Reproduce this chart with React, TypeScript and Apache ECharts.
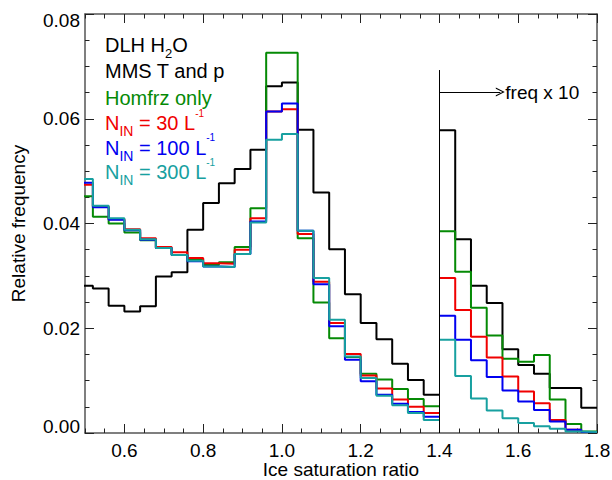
import React, { useEffect, useRef } from "react";
import * as echarts from "echarts";

const FONT = "'Liberation Sans', Arial, Helvetica, sans-serif";

// Bin edges (width 0.04): left panel 0.48..1.40, right panel (freq x 10) 1.40..1.80
const BIN_WIDTH = 0.04;
const leftEdges = Array.from({ length: 24 }, (_, i) => +(0.48 + BIN_WIDTH * i).toFixed(2));
const rightEdges = Array.from({ length: 11 }, (_, i) => +(1.4 + BIN_WIDTH * i).toFixed(2));

// Relative frequency, left panel
const blackLeft = [0.0281, 0.0276, 0.0243, 0.0232, 0.0242, 0.0299, 0.0307, 0.0388, 0.0439, 0.0477, 0.0504, 0.0541, 0.0662, 0.0669, 0.0579, 0.0459, 0.0351, 0.0265, 0.021, 0.0179, 0.0132, 0.0101, 0.0073];
const greenLeft = [0.0452, 0.0413, 0.04, 0.0383, 0.0368, 0.0353, 0.034, 0.0332, 0.0321, 0.0326, 0.0355, 0.0429, 0.0726, 0.0726, 0.0372, 0.0249, 0.0181, 0.0145, 0.0113, 0.0102, 0.0084, 0.0065, 0.0051];
const redLeft = [0.0474, 0.0433, 0.0408, 0.0389, 0.0372, 0.0355, 0.0345, 0.0334, 0.0324, 0.0323, 0.035, 0.041, 0.0614, 0.0618, 0.038, 0.0289, 0.021, 0.0151, 0.011, 0.0085, 0.0064, 0.005, 0.0038];
const blueLeft = [0.0478, 0.0431, 0.0407, 0.0387, 0.0369, 0.0353, 0.034, 0.0328, 0.0318, 0.0317, 0.0342, 0.0404, 0.0614, 0.0629, 0.0386, 0.0284, 0.0204, 0.014, 0.0099, 0.0073, 0.0056, 0.004, 0.0031];
const tealLeft = [0.0485, 0.0434, 0.041, 0.0388, 0.037, 0.0353, 0.034, 0.0329, 0.0318, 0.0317, 0.0342, 0.0402, 0.056, 0.0571, 0.0386, 0.0296, 0.0216, 0.0146, 0.0105, 0.0071, 0.0053, 0.0038, 0.0025];

// Right panel, plotted as freq x 10
const blackTailX10 = [0.0578, 0.037, 0.0281, 0.0248, 0.016, 0.013, 0.0113, 0.0086, 0.0086, 0.0048];
const greenTailX10 = [0.0385, 0.0308, 0.0239, 0.0186, 0.0142, 0.0136, 0.0149, 0.0064, 0.0017, 0.0003];
const redTailX10 = [0.0296, 0.0235, 0.0184, 0.0144, 0.0108, 0.0079, 0.0057, 0.0025, 0.0006, 0.0002];
const blueTailX10 = [0.0224, 0.0178, 0.0139, 0.0107, 0.0081, 0.006, 0.0044, 0.0022, 0.0006, 0.0002];
const tealTailX10 = [0.0178, 0.0109, 0.0066, 0.0043, 0.0028, 0.0019, 0.0013, 0.0008, 0.0003, 0.0002];

const xMajorTicks = [0.6, 0.8, 1.0, 1.2, 1.4, 1.6, 1.8];

const COLORS = {
  black: "#000000",
  green: "#058a05",
  red: "#f00000",
  blue: "#0000f0",
  teal: "#17a0a0",
};

const AXIS_COLOR = "#555555";

function stepData(edges: number[], vals: number[]) {
  return edges.map((e, i) => [e, vals[Math.min(i, vals.length - 1)]]);
}

function legendRich(color: string) {
  return {
    m: { fontSize: 20, lineHeight: 30, fontFamily: FONT, fill: color, verticalAlign: "middle" },
    s2: { fontSize: 13, lineHeight: 19, fontFamily: FONT, fill: color, verticalAlign: "bottom" },
    s: { fontSize: 14, lineHeight: 16, fontFamily: FONT, fill: color, verticalAlign: "bottom" },
    p: { fontSize: 10, lineHeight: 22, fontFamily: FONT, fill: color, verticalAlign: "top" },
  };
}

const legendRows = [
  { y: 45, text: "{m|DLH H}{s2|2}{m|O}", color: COLORS.black },
  { y: 70.5, text: "{m|MMS T and p}", color: COLORS.black },
  { y: 97.5, text: "{m|Homfrz only}", color: COLORS.green },
  { y: 123, text: "{m|N}{s|IN}{m| = 30 L}{p|-1}", color: COLORS.red },
  { y: 147.5, text: "{m|N}{s|IN}{m| = 100 L}{p|-1}", color: COLORS.blue },
  { y: 172, text: "{m|N}{s|IN}{m| = 300 L}{p|-1}", color: COLORS.teal },
];

export default function App() {
  const ref = useRef<HTMLDivElement>(null);
  useEffect(() => {
    if (!ref.current) return;
    const chart = echarts.init(ref.current, undefined, { renderer: "svg" });
    const lineStyle = { color: AXIS_COLOR, width: 1.5 };
    const tickStyle = { color: "#222", width: 1 };
    const xBase = { type: "value", min: 0.5, max: 1.8, splitLine: { show: false } };
    const yBase = { type: "value", min: 0, max: 0.08, interval: 0.02, splitLine: { show: false } };

    const mk = (name: string, color: string, edges: number[], vals: number[], extra: any = {}) => ({
      type: "line",
      name,
      step: "end",
      symbol: "none",
      xAxisIndex: 0,
      yAxisIndex: 0,
      data: stepData(edges, vals),
      lineStyle: { color, width: 2 },
      itemStyle: { color },
      clip: true,
      silent: true,
      ...extra,
    });

    const series: any[] = [
      mk("black", COLORS.black, leftEdges, blackLeft),
      mk("green", COLORS.green, leftEdges, greenLeft),
      mk("red", COLORS.red, leftEdges, redLeft),
      mk("blue", COLORS.blue, leftEdges, blueLeft),
      mk("teal", COLORS.teal, leftEdges, tealLeft),
      mk("black10", COLORS.black, rightEdges, blackTailX10, {
        markLine: {
          silent: true,
          symbol: ["none", "none"],
          lineStyle: { color: "#000", width: 1, type: "solid" },
          label: { show: false },
          data: [
            [
              { coord: [1.4, 0], symbol: "none" },
              { coord: [1.4, 0.0693], symbol: "none" },
            ],
            [
              { coord: [1.4, 0.0651], symbol: "none" },
              {
                coord: [1.5545, 0.0651],
                symbol: "path://M0,10 L5,0 L10,10 L8.6,10 L5,2.6 L1.4,10 Z",
                symbolSize: [9, 9],
                label: {
                  show: true,
                  position: "end",
                  formatter: "freq x 10",
                  fontSize: 19,
                  fontFamily: FONT,
                  color: "#000",
                  distance: 5,
                },
              },
            ],
          ],
        },
      }),
      mk("green10", COLORS.green, rightEdges, greenTailX10),
      mk("red10", COLORS.red, rightEdges, redTailX10),
      mk("blue10", COLORS.blue, rightEdges, blueTailX10),
      mk("teal10", COLORS.teal, rightEdges, tealTailX10),
    ];

    chart.setOption({
      animation: false,
      textStyle: { fontFamily: FONT },
      grid: { left: 85, top: 14, width: 512, height: 419, containLabel: false, outerBoundsMode: "none" },
      xAxis: [
        {
          ...xBase,
          position: "bottom",
          axisLine: { show: true, onZero: false, lineStyle },
          axisTick: { show: true, inside: true, length: 9, customValues: xMajorTicks, lineStyle: tickStyle },
          axisLabel: {
            show: true,
            customValues: xMajorTicks,
            formatter: (v: number) => v.toFixed(1),
            fontSize: 19,
            lineHeight: 19,
            color: "#000",
            margin: 8,
            fontFamily: FONT,
          },
          name: "Ice saturation ratio",
          nameLocation: "middle",
          nameGap: 27.5,
          nameMoveOverlap: false,
          nameTextStyle: { fontSize: 19, lineHeight: 18, color: "#000", fontFamily: FONT },
        },
        {
          ...xBase,
          interval: 0.05,
          position: "bottom",
          axisLine: { show: false, onZero: false },
          axisTick: { show: true, inside: true, length: 4.5, lineStyle: tickStyle },
          axisLabel: { show: false },
        },
        {
          ...xBase,
          position: "top",
          axisLine: { show: true, onZero: false, lineStyle },
          axisTick: { show: true, inside: true, length: 9, customValues: xMajorTicks, lineStyle: tickStyle },
          axisLabel: { show: false },
        },
        {
          ...xBase,
          interval: 0.05,
          position: "top",
          axisLine: { show: false, onZero: false },
          axisTick: { show: true, inside: true, length: 4.5, lineStyle: tickStyle },
          axisLabel: { show: false },
        },
      ],
      yAxis: [
        {
          ...yBase,
          position: "left",
          axisLine: { show: true, onZero: false, lineStyle },
          axisTick: { show: true, inside: true, length: 9, lineStyle: tickStyle },
          minorTick: { show: true, splitNumber: 4, length: 4.5, lineStyle: tickStyle },
          axisLabel: {
            show: true,
            fontSize: 19,
            color: "#000",
            margin: 5,
            fontFamily: FONT,
            formatter: (v: number) => {
              const s = v.toFixed(2);
              if (Math.abs(v - 0.08) < 1e-9) return "{t|" + s + "}";
              if (Math.abs(v) < 1e-9) return "{b|" + s + "}";
              return s;
            },
            rich: {
              t: { fontSize: 19, color: "#000", fontFamily: FONT, padding: [13, 0, 0, 0] },
              b: { fontSize: 19, color: "#000", fontFamily: FONT, padding: [0, 0, 13, 0] },
            },
          },
          name: "Relative frequency",
          nameLocation: "middle",
          nameGap: 57,
          nameMoveOverlap: false,
          nameRotate: 90,
          nameTextStyle: { fontSize: 19, color: "#000", fontFamily: FONT },
        },
        {
          ...yBase,
          position: "right",
          axisLine: { show: true, onZero: false, lineStyle },
          axisTick: { show: true, inside: true, length: 9, lineStyle: tickStyle },
          minorTick: { show: true, splitNumber: 4, length: 4.5, lineStyle: tickStyle },
          axisLabel: { show: false },
        },
      ],
      graphic: legendRows.map((r) => ({
        type: "text",
        x: 105,
        y: r.y,
        silent: true,
        style: {
          text: r.text,
          rich: legendRich(r.color),
          fill: r.color,
          fontSize: 20,
          fontFamily: FONT,
          align: "left",
          verticalAlign: "middle",
        },
      })),
      series,
    });
    return () => chart.dispose();
  }, []);
  return <div ref={ref} style={{ width: 612, height: 480, position: "absolute", left: 0, top: 0 }} />;
}
